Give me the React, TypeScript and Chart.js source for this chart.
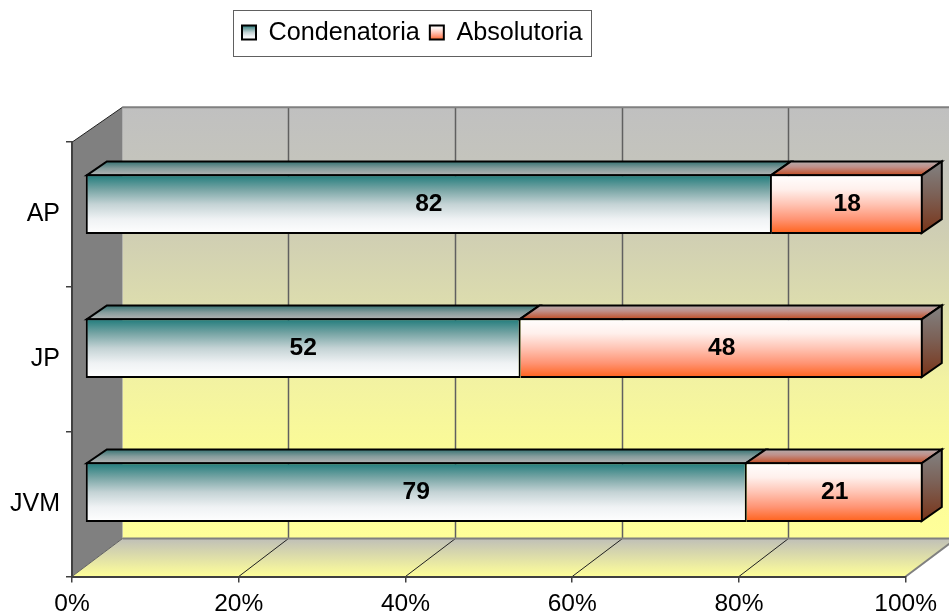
import React, { useEffect, useRef } from "react";
import { Chart, registerables } from "chart.js";

Chart.register(...registerables);

const categories = ["AP", "JP", "JVM"];
const condenatoria = [82, 52, 79];
const absolutoria = [18, 48, 21];
const seriesNames = ["Condenatoria", "Absolutoria"];
const FONT = "'Liberation Sans', Arial, sans-serif";

const DX = 50.5, DY = -38, DYT = -35;   // chart depth at the floor and at the top
const BX = 20, BY = -14;                // bar depth
const SX = 1.0048, TX = 12.65, SY = 0.9945, TY = -9.2; // bar plane in the 3D box

function lin(ctx: CanvasRenderingContext2D, y0: number, y1: number, stops: [number, string][]) {
  const g = ctx.createLinearGradient(0, y0, 0, y1);
  stops.forEach(([o, c]) => g.addColorStop(o, c));
  return g;
}
const tealStops: [number, string][] = [[0, "#1c7a7a"], [0.25, "#76a4a4"], [0.5, "#c4d3d5"], [0.75, "#eff2f4"], [1, "#ffffff"]];
const orangeStops: [number, string][] = [[0, "#ffffff"], [0.25, "#fff0ec"], [0.5, "#ffc4b4"], [0.75, "#ff9474"], [1, "#ff6018"]];

function barFill(stops: [number, string][]) {
  return (c: any) => {
    const y = c.chart.scales?.y;
    if (!y || c.dataIndex === undefined) return stops[0][1];
    const p = y.getPixelForValue(c.dataIndex);
    return lin(c.chart.ctx, p - 30, p + 30, stops);
  };
}

function poly(ctx: CanvasRenderingContext2D, pts: number[][], fill: any, stroke?: string, w = 1) {
  ctx.beginPath();
  pts.forEach(([x, y], i) => (i ? ctx.lineTo(x, y) : ctx.moveTo(x, y)));
  ctx.closePath();
  if (fill) { ctx.fillStyle = fill; ctx.fill(); }
  if (stroke) { ctx.strokeStyle = stroke; ctx.lineWidth = w; ctx.lineJoin = "miter"; ctx.stroke(); }
}
function seg(ctx: CanvasRenderingContext2D, x0: number, y0: number, x1: number, y1: number, c: string, w: number) {
  ctx.beginPath(); ctx.moveTo(x0, y0); ctx.lineTo(x1, y1); ctx.strokeStyle = c; ctx.lineWidth = w; ctx.stroke();
}

const box3d = {
  id: "box3d",
  afterLayout(chart: any) {
    const l = chart.legend;
    l.left = 232; l.right = 640; l.top = 10; l.bottom = 56;
  },
  beforeDraw(chart: any) {
    const { ctx, chartArea: a, scales } = chart;
    const L = a.left, R = a.right, T = a.top, B = a.bottom;
    ctx.save();
    // legend frame
    ctx.strokeStyle = "#606060"; ctx.lineWidth = 1;
    ctx.strokeRect(233.5, 10.5, 358, 46);
    // back wall
    const wall = lin(ctx, T + DYT, B + DY, [[0, "#c0c0c0"], [0.15, "#c5c5bc"], [0.3, "#d0cfb3"], [0.45, "#dcdcae"], [0.63, "#f2f2a2"], [0.78, "#fafa98"], [1, "#ffff99"]]);
    poly(ctx, [[L + DX, T + DYT], [R + DX, T + DYT], [R + DX, B + DY], [L + DX, B + DY]], wall);
    // side wall
    poly(ctx, [[L, T], [L + DX, T + DYT], [L + DX, B + DY], [L, B]], "#808080");
    // floor
    const floor = lin(ctx, B + DY, B, [[0, "#bfbfb8"], [1, "#ffff99"]]);
    poly(ctx, [[L, B], [R, B], [R + DX, B + DY], [L + DX, B + DY]], floor);
    // grid lines on wall and floor, from the axis ticks
    scales.x.ticks.forEach((t: any) => {
      const x = scales.x.getPixelForValue(t.value);
      if (t.value > 0 && t.value < 100) {
        const bx = Math.round(x + DX) - 0.5;
        seg(ctx, bx, T + DYT, bx, B + DY, "#606060", 1.5);
        seg(ctx, x, B, bx, B + DY, "#202020", 1);
      }
    });
    seg(ctx, R, B, R + DX, B + DY, "#808080", 2);
    seg(ctx, L + DX, T + DYT, R + DX, T + DYT, "#808080", 2);
    seg(ctx, L + DX, B + DY, R + DX, B + DY, "#808080", 2);
    seg(ctx, L, T, L + DX, T + DYT, "#202020", 1);
    seg(ctx, L, B, L + DX, B + DY, "#606060", 1);
    ctx.restore();
  },
  beforeDatasetsDraw(chart: any) {
    const { ctx } = chart;
    ctx.save();
    ctx.transform(SX, 0, 0, SY, TX, TY);
    // 3D faces
    chart.data.datasets.forEach((_: any, di: number) => {
      chart.getDatasetMeta(di).data.forEach((bar: any) => {
        const { x, y, base, height } = bar.getProps(["x", "y", "base", "height"], true);
        const t = y - height / 2 + 1, b = y + height / 2 - 1;
        const l = base + (di === 0 ? 1 : -1), r = x - 1;
        const topFill = di === 0
          ? lin(ctx, t + BY, t, [[0, "#357272"], [0.5, "#859c9c"], [1, "#b4b4b4"]])
          : lin(ctx, t + BY, t, [[0, "#b4acac"], [0.4, "#c0908a"], [1, "#c24c22"]]);
        poly(ctx, [[l, t], [r, t], [r + BX, t + BY], [l + BX, t + BY]], topFill, "#000000", 2);
        if (di === chart.data.datasets.length - 1) {
          const side = lin(ctx, t + BY, b, [[0, "#828282"], [0.45, "#7c6258"], [1, "#7a3418"]]);
          poly(ctx, [[r, t], [r + BX, t + BY], [r + BX, b + BY], [r, b]], side, "#000000", 2);
        }
      });
    });
  },
  afterDatasetsDraw(chart: any) {
    const { ctx } = chart;
    // value labels (still in the bar plane)
    ctx.font = `bold 24.5px ${FONT}`;
    ctx.fillStyle = "#000000";
    ctx.textAlign = "center";
    ctx.textBaseline = "middle";
    chart.data.datasets.forEach((ds: any, di: number) => {
      chart.getDatasetMeta(di).data.forEach((bar: any, i: number) => {
        const { x, y, base } = bar.getProps(["x", "y", "base"], true);
        ctx.fillText(String(ds.data[i]), (x + base) / 2, y);
      });
    });
    ctx.restore();
  },
};

export default function App() {
  const ref = useRef<HTMLCanvasElement>(null);
  useEffect(() => {
    const chart = new Chart(ref.current as HTMLCanvasElement, {
      type: "bar",
      plugins: [box3d],
      data: {
        labels: categories,
        datasets: [
          {
            label: seriesNames[0],
            data: condenatoria,
            backgroundColor: barFill(tealStops),
            borderColor: "#000000",
            borderWidth: 2,
            borderSkipped: false,
            barThickness: 60,
            inflateAmount: 0,
          },
          {
            label: seriesNames[1],
            data: absolutoria,
            backgroundColor: barFill(orangeStops),
            borderColor: "#000000",
            borderWidth: 2,
            borderSkipped: "left",
            barThickness: 60,
            inflateAmount: 0,
          },
        ] as any,
      },
      options: {
        indexAxis: "y",
        animation: false,
        responsive: false,
        events: [],
        layout: { autoPadding: false, padding: { top: 97, right: 43.3, left: 0, bottom: 0 } },
        plugins: {
          tooltip: { enabled: false },
          legend: {
            position: "top",
            align: "start",
            labels: {
              boxWidth: 14,
              boxHeight: 14,
              padding: 10,
              color: "#000000",
              font: { family: FONT, size: 25.2 },
              generateLabels(chart: any) {
                const ctx = chart.ctx;
                return [tealStops, orangeStops].map((s, i) => ({
                  text: seriesNames[i],
                  fillStyle: lin(ctx, 25, 40, s),
                  strokeStyle: "#000000",
                  lineWidth: 2,
                  datasetIndex: i,
                })) as any;
              },
            },
          },
        },
        scales: {
          x: {
            stacked: true,
            min: 0,
            max: 100,
            afterFit: (s: any) => { s.height = 37.5; },
            ticks: {
              stepSize: 20,
              color: "#000000",
              padding: 7,
              maxRotation: 0,
              font: { family: FONT, size: 24.5 },
              callback: (v: any) => `${v}%`,
            },
            grid: { drawOnChartArea: false, drawTicks: true, tickLength: 6, color: "#404040", lineWidth: 1.5 },
            border: { display: true, color: "#404040", width: 2 },
          },
          y: {
            stacked: true,
            afterFit: (s: any) => { s.width = 72; },
            ticks: {
              color: "#000000",
              padding: 6,
              font: { family: FONT, size: 25 },
            },
            grid: { drawOnChartArea: false, drawTicks: true, tickLength: 6, color: "#404040", lineWidth: 1.5 },
            border: { display: true, color: "#404040", width: 2 },
          },
        },
      } as any,
    });
    return () => chart.destroy();
  }, []);
  return (
    <div style={{ position: "fixed", left: 0, top: 0, width: 949, height: 614, background: "#ffffff" }}>
      <canvas ref={ref} width={949} height={614} style={{ display: "block" }} />
    </div>
  );
}
